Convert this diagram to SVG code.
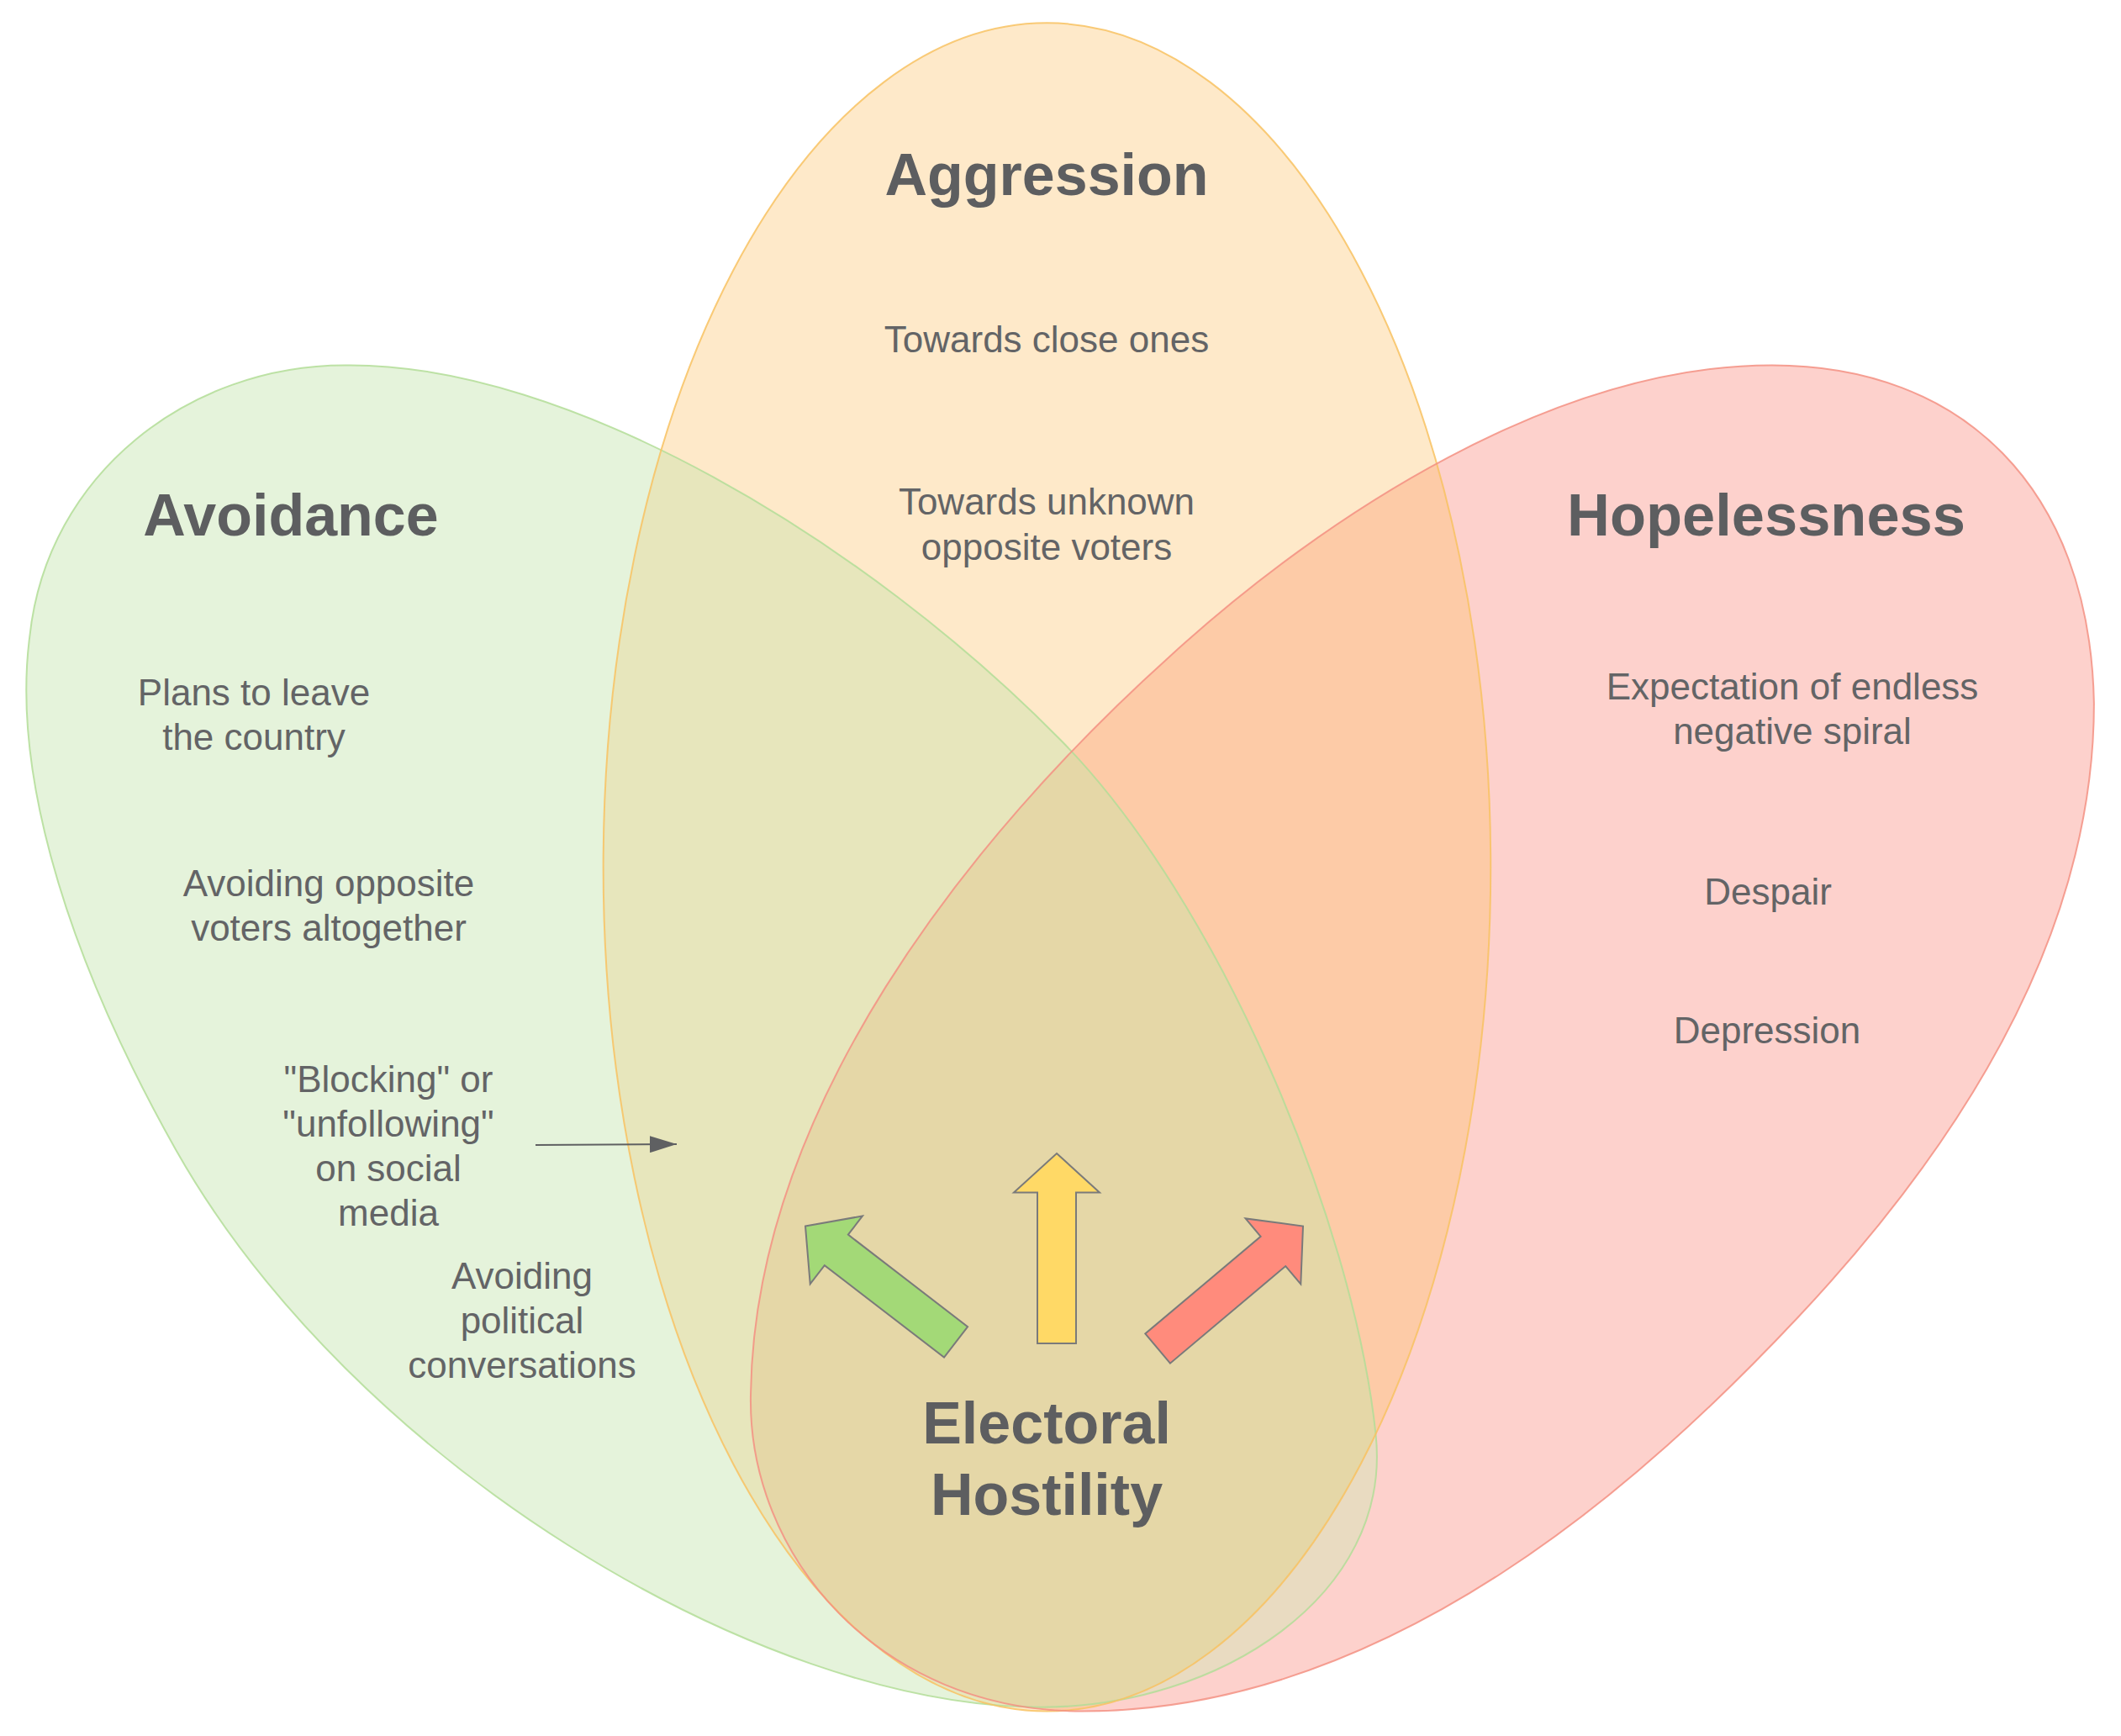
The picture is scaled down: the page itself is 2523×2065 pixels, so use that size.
<svg xmlns="http://www.w3.org/2000/svg" xmlns:xlink="http://www.w3.org/1999/xlink" width="2523" height="2065" viewBox="0 0 2523 2065">
<style>
.t{font-family:"Liberation Sans",Arial,sans-serif;font-size:44px;fill:#636466;text-anchor:middle}
.h{font-family:"Liberation Sans",Arial,sans-serif;font-size:70px;font-weight:bold;fill:#5d5e60;text-anchor:middle}
.ol{fill:none;stroke-width:1.25;stroke-opacity:0.85}
.big{stroke:#7a7a7a;stroke-width:2;stroke-linejoin:miter}
</style>
<defs>
<path id="shG" transform="scale(1.6091)" d="M255,270 C420,268 640,400 785,548 C900,665 1000,900 1017,1060 C1030,1180 900,1262 770,1262 C560,1262 260,1080 130,850 C40,690 10,560 22,470 C35,350 140,270 255,270 Z"/>
<ellipse id="shO" transform="scale(1.6091)" cx="774" cy="641" rx="328" ry="624"/>
<path id="shR" transform="scale(1.6091)" d="M1310,270 C1450,270 1545,360 1548,520 C1548,700 1438.6,857.4 1329,974 C1219.4,1090.6 1030,1265 800,1265 C650,1265 552,1150 555,1030 C558,820 715,620 865,485 C980,380 1150,270 1310,270 Z"/>
<clipPath id="cG"><use xlink:href="#shG" href="#shG"/></clipPath>
<clipPath id="cO"><use xlink:href="#shO" href="#shO"/></clipPath>
<path id="bigArrow" d="M0,0 L51,46.5 L23,46.5 L23,226 L-23,226 L-23,46.5 L-51,46.5 Z"/>
<marker id="ah" markerUnits="userSpaceOnUse" markerWidth="32" markerHeight="20" refX="32" refY="10" orient="auto">
<path d="M0,0 L32,10 L0,20 Z" fill="#5f6062"/>
</marker>
</defs>
<rect width="2523" height="2065" fill="#ffffff"/>

<g id="avoidance">
<use href="#shG" fill="#e5f3db"/>
<text class="h" x="346" y="637">Avoidance</text>
<text class="t" x="302" y="839">Plans to leave</text>
<text class="t" x="302" y="892">the country</text>
<text class="t" x="391" y="1066">Avoiding opposite</text>
<text class="t" x="391" y="1119">voters altogether</text>
<text class="t" x="462" y="1299">"Blocking" or</text>
<text class="t" x="462" y="1352">"unfollowing"</text>
<text class="t" x="462" y="1405">on social</text>
<text class="t" x="462" y="1458">media</text>
<text class="t" x="621" y="1533">Avoiding</text>
<text class="t" x="621" y="1586">political</text>
<text class="t" x="621" y="1639">conversations</text>
</g>

<g id="aggression">
<use href="#shO" fill="#fee9c9"/>
<use href="#shO" fill="#e7e6bc" clip-path="url(#cG)"/>
<text class="h" x="1245" y="232">Aggression</text>
<text class="t" x="1245" y="419">Towards close ones</text>
<text class="t" x="1245" y="612">Towards unknown</text>
<text class="t" x="1245" y="666">opposite voters</text>
</g>

<g id="hopelessness">
<use href="#shR" fill="#fdd1cc"/>
<use href="#shR" fill="#e9dbc1" clip-path="url(#cG)"/>
<use href="#shR" fill="#fdcba7" clip-path="url(#cO)"/>
<g clip-path="url(#cG)"><use href="#shR" fill="#e5d7a7" clip-path="url(#cO)"/></g>
<text class="h" x="2101" y="637" textLength="474" lengthAdjust="spacingAndGlyphs">Hopelessness</text>
<text class="t" x="2132" y="832">Expectation of endless</text>
<text class="t" x="2132" y="885">negative spiral</text>
<text class="t" x="2103" y="1076">Despair</text>
<text class="t" x="2102" y="1241">Depression</text>
</g>

<g id="outlines">
<use href="#shG" class="ol" stroke="#b3dd98"/>
<use href="#shO" class="ol" stroke="#f8c262"/>
<use href="#shR" class="ol" stroke="#f39183"/>
</g>

<g id="electoral-hostility">
<use href="#bigArrow" class="big" fill="#a3d977" transform="translate(958,1458.5) rotate(-52.4)"/>
<use href="#bigArrow" class="big" fill="#ffd966" transform="translate(1257,1372)"/>
<use href="#bigArrow" class="big" fill="#ff8b7c" transform="translate(1550,1458.5) rotate(49.9)"/>
<text class="h" x="1245" y="1717">Electoral</text>
<text class="h" x="1245" y="1802">Hostility</text>
</g>

<g id="connectors">
<line x1="637" y1="1362" x2="805" y2="1361" stroke="#5f6062" stroke-width="2" marker-end="url(#ah)"/>
</g>
</svg>
